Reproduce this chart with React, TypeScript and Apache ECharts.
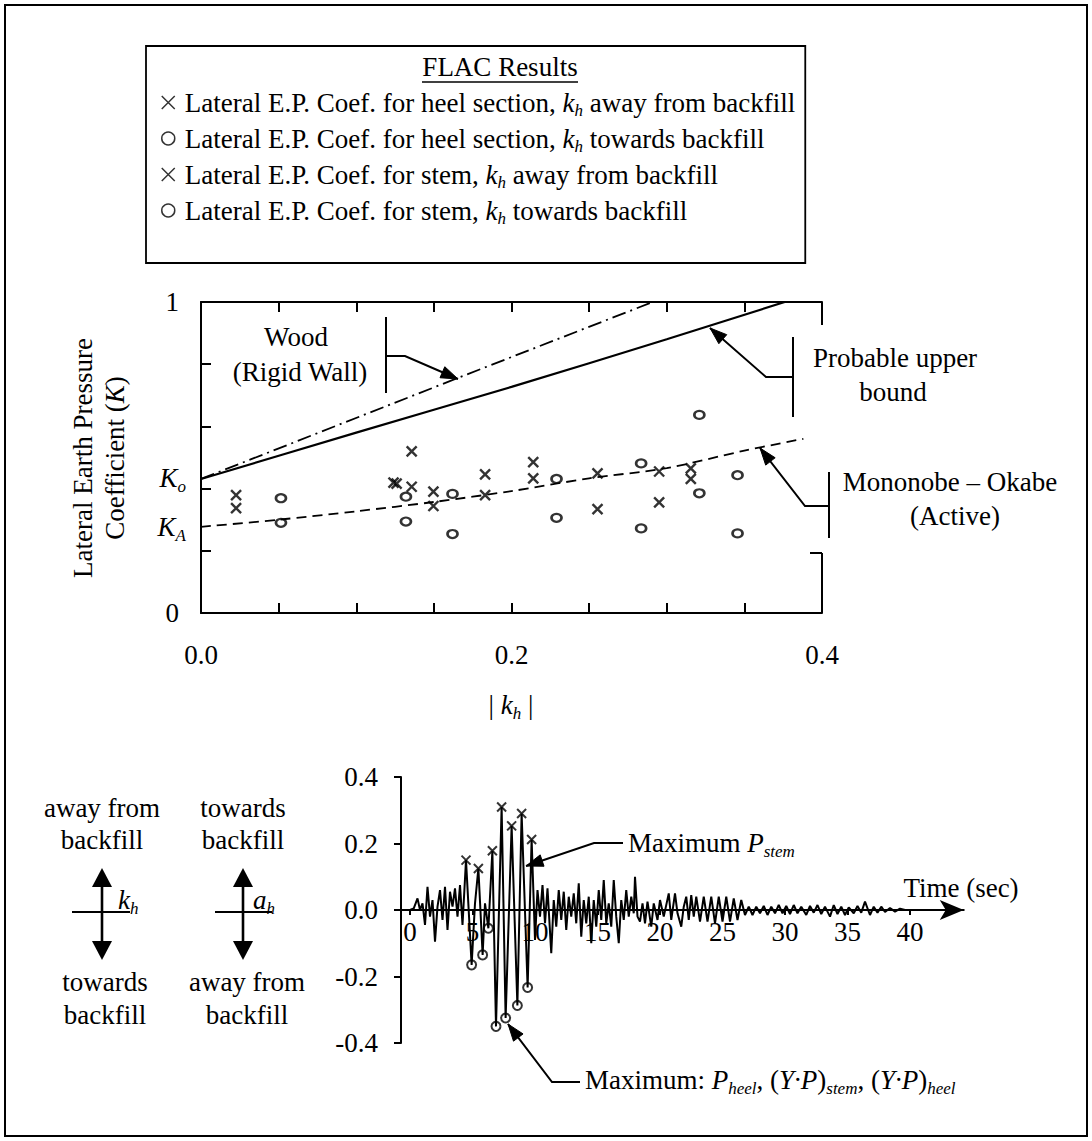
import React, { useEffect, useRef } from "react";
import * as echarts from "echarts";

const FONT = "'Liberation Serif', 'Times New Roman', Times, serif";
const FS = 27;

// ---------- Upper chart: K versus |kh| ----------
const khTickValues = [0, 0.2, 0.4];
const kTickValues = [0, 1];
const woodLine = [[0, 0.431], [0.1656, 0.756], [0.291, 1.0]];
const upperBoundLine = [[0, 0.431], [0.1, 0.58], [0.2, 0.727], [0.3, 0.88], [0.376, 1.0]];
const mononobeOkabeLine = [
  [0, 0.277], [0.05, 0.3], [0.1, 0.327], [0.15, 0.357], [0.2, 0.392],
  [0.25, 0.433], [0.3, 0.466], [0.35, 0.522], [0.388, 0.56],
];
const heelAway = [
  [0.0226, 0.379], [0.124, 0.419], [0.1357, 0.52], [0.1497, 0.39], [0.183, 0.446],
  [0.214, 0.485], [0.2554, 0.449], [0.2951, 0.455], [0.3155, 0.465],
];
const stemAway = [
  [0.0226, 0.337], [0.126, 0.416], [0.1357, 0.406], [0.1497, 0.344], [0.183, 0.379],
  [0.214, 0.433], [0.2554, 0.334], [0.2951, 0.356], [0.3155, 0.431],
];
const heelTowards = [
  [0.0515, 0.369], [0.132, 0.374], [0.162, 0.383], [0.229, 0.431],
  [0.2835, 0.481], [0.321, 0.637], [0.3456, 0.443],
];
const stemTowards = [
  [0.0515, 0.29], [0.132, 0.294], [0.162, 0.254], [0.229, 0.306],
  [0.2835, 0.272], [0.321, 0.385], [0.3456, 0.256],
];

// ---------- Lower chart: kh time history ----------
const timeTicks = [0, 5, 10, 15, 20, 25, 30, 35, 40];
const khHistory = [
  [0, 0], [0.3, 0.005], [0.6, 0.035], [0.8, 0], [1.0, 0.02], [1.2, -0.045], [1.4, 0.07],
  [1.6, -0.02], [1.8, 0.03], [2.0, -0.095], [2.2, 0.01], [2.4, 0.06], [2.6, -0.03],
  [2.8, 0.07], [3.0, -0.06], [3.2, 0.055], [3.4, 0.01], [3.6, 0.065], [3.8, -0.02],
  [4.0, 0.075], [4.2, -0.045], [4.48, 0.15], [4.93, -0.165], [5.2, 0.02], [5.47, 0.125],
  [5.81, -0.135], [6.0, 0.02], [6.27, -0.055], [6.59, 0.178], [6.88, -0.35], [7.33, 0.31],
  [7.65, -0.325], [8.13, 0.253], [8.59, -0.287], [8.93, 0.29], [9.41, -0.233], [9.73, 0.212],
  [10.0, -0.09], [10.2, 0.06], [10.4, -0.02], [10.6, 0.075], [10.8, -0.04], [11.0, 0.065],
  [11.3, -0.13], [11.5, 0.03], [11.7, -0.05], [11.9, 0.06], [12.1, -0.03], [12.3, 0.055],
  [12.5, -0.06], [12.7, 0.04], [12.9, -0.02], [13.1, 0.05], [13.3, -0.04], [13.5, 0.08],
  [13.7, -0.08], [13.9, 0.03], [14.1, -0.04], [14.3, 0.04], [14.5, -0.1], [14.7, 0.03],
  [14.9, -0.05], [15.1, 0.06], [15.3, -0.03], [15.5, 0.09], [15.7, -0.04], [15.9, 0.02],
  [16.1, -0.05], [16.3, 0.09], [16.5, -0.02], [16.7, -0.1], [16.9, 0.03], [17.1, -0.03],
  [17.3, 0.06], [17.5, -0.02], [17.7, 0.04], [17.9, -0.01], [18.0, 0.1], [18.2, -0.02],
  [18.4, -0.035], [18.6, 0.02], [18.8, -0.04], [19.0, 0.025], [19.3, -0.05], [19.5, 0.02],
  [19.8, -0.03], [20.0, 0.03], [20.3, -0.02], [20.7, 0.05], [20.9, -0.03], [21.2, 0.05],
  [21.4, -0.01], [21.7, -0.05], [21.9, 0.01], [22.1, 0.04], [22.3, -0.03], [22.5, 0.045],
  [22.7, -0.02], [22.9, 0.04], [23.2, -0.035], [23.5, 0.04], [23.8, -0.035], [24.1, 0.04],
  [24.4, -0.04], [24.7, 0.04], [25.0, -0.035], [25.3, 0.04], [25.6, -0.035], [25.9, 0.035],
  [26.2, -0.03], [26.5, 0.03], [26.8, -0.015], [27.1, 0.01], [27.4, -0.015], [27.7, 0.01],
  [28.0, -0.01], [28.3, 0.012], [28.6, -0.015], [28.9, 0.01], [29.2, -0.01], [29.5, 0.015],
  [29.8, -0.01], [30.1, 0.012], [30.4, -0.012], [30.7, 0.015], [31.0, -0.01], [31.3, 0.01],
  [31.7, -0.015], [32.0, 0.012], [32.3, -0.008], [32.6, 0.015], [32.9, -0.012], [33.2, 0.01],
  [33.6, -0.02], [33.9, 0.015], [34.2, -0.012], [34.5, 0.01], [34.8, -0.015], [35.1, 0.008],
  [35.5, -0.01], [35.8, 0.012], [36.1, -0.008], [36.4, 0.025], [36.8, -0.015], [37.1, 0.01],
  [37.4, -0.008], [37.7, 0.01], [38.0, -0.006], [38.4, 0.006], [38.8, -0.005], [39.2, 0.004],
  [39.6, 0],
];
const stemPeaks = [[4.48, 0.15], [5.47, 0.125], [6.59, 0.178], [7.33, 0.31], [8.13, 0.253], [8.93, 0.29], [9.73, 0.212]];
const heelPeaks = [[4.93, -0.165], [5.81, -0.135], [6.27, -0.055], [6.88, -0.35], [7.65, -0.325], [8.59, -0.287], [9.41, -0.233]];

const legendLabels: Record<string, string> = {
  heelAway: "{n|Lateral E.P. Coef. for heel section, }{i|k}{s|h}{n| away from backfill}",
  heelTowards: "{n|Lateral E.P. Coef. for heel section, }{i|k}{s|h}{n| towards backfill}",
  stemAway: "{n|Lateral E.P. Coef. for stem, }{i|k}{s|h}{n| away from backfill}",
  stemTowards: "{n|Lateral E.P. Coef. for stem, }{i|k}{s|h}{n| towards backfill}",
};

const CROSS = "path://M0,0L10,10M10,0L0,10";

function richStyles(fs: number) {
  const sub = Math.round(fs * 0.62);
  const base = { fontSize: fs, fontFamily: FONT, fill: "#000", color: "#000", lineHeight: fs + 6 };
  return {
    n: { ...base },
    i: { ...base, fontStyle: "italic" },
    s: {
      fontSize: sub, fontFamily: FONT, fontStyle: "italic", fill: "#000", color: "#000",
      lineHeight: sub + 1, verticalAlign: "bottom",
    },
  };
}

function txt(x: number, y: number, text: string, align = "center", fs = FS, extra: any = {}) {
  return {
    type: "text", x, y, ...extra,
    style: {
      text, fontSize: fs, fontFamily: FONT, fill: "#000",
      align, verticalAlign: "middle", textAlign: align, textVerticalAlign: "middle",
      rich: richStyles(fs),
    },
  };
}
function seg(x1: number, y1: number, x2: number, y2: number, w = 1.8) {
  return { type: "line", shape: { x1, y1, x2, y2 }, style: { stroke: "#000", lineWidth: w } };
}
function pline(points: number[][], w = 1.8) {
  return { type: "polyline", shape: { points }, style: { stroke: "#000", lineWidth: w, fill: "none" } };
}
function head(tx: number, ty: number, fx: number, fy: number, len = 17, half = 6) {
  const dx = tx - fx, dy = ty - fy, d = Math.hypot(dx, dy);
  const ux = dx / d, uy = dy / d;
  const bx = tx - ux * len, by = ty - uy * len;
  return {
    type: "polygon",
    shape: { points: [[tx, ty], [bx - uy * half, by + ux * half], [bx + uy * half, by - ux * half]] },
    style: { fill: "#000", stroke: "#000", lineWidth: 1 },
  };
}
function leader(points: number[][], w = 2) {
  const n = points.length;
  const [tx, ty] = points[n - 1];
  const [fx, fy] = points[n - 2];
  return [pline(points, w), head(tx, ty, fx, fy)];
}
function doubleArrow(x: number, top: number, bottom: number, hx1: number, hx2: number, hy: number) {
  return [
    seg(x, top + 15, x, bottom - 15, 2.6),
    { type: "polygon", shape: { points: [[x, top], [x - 10, top + 19], [x + 10, top + 19]] }, style: { fill: "#000" } },
    { type: "polygon", shape: { points: [[x, bottom], [x - 10, bottom - 19], [x + 10, bottom - 19]] }, style: { fill: "#000" } },
    seg(hx1, hy, hx2, hy, 2),
  ];
}

const axisFont = { fontSize: FS, fontFamily: FONT, color: "#000" };
const blackLine = { color: "#000", width: 2 };

function buildOption(): any {
  const scatterStyle = (w: number) => ({ color: "rgba(0,0,0,0)", borderColor: "#000", borderWidth: w });
  const elements: any[] = [
    { type: "rect", shape: { x: 5, y: 5, width: 1082, height: 1131 }, style: { fill: "none", stroke: "#000", lineWidth: 2 } },
    // legend title
    txt(500, 67, "{n|FLAC Results}"),
    seg(422, 82, 578, 82, 1.4),
    // y-axis title
    txt(83, 458, "{n|Lateral Earth Pressure}", "center", FS, { rotation: Math.PI / 2 }),
    txt(115, 458, "{n|Coefficient (}{i|K}{n|)}", "center", FS, { rotation: Math.PI / 2 }),
    txt(186, 478, "{i|K}{s|o}", "right"),
    txt(186, 527, "{i|K}{s|A}", "right"),
    txt(511, 705, "{n|| }{i|k}{s|h}{n| |}"),
    // partial right frame
    seg(822, 302, 822, 325, 2),
    seg(822, 553, 822, 613, 2),
    seg(810, 553, 822, 553, 2),
    // Wood
    txt(296, 337, "{n|Wood}"),
    txt(300, 372, "{n|(Rigid Wall)}"),
    seg(386, 317, 386, 393, 2),
    ...leader([[386, 356], [405, 356], [458, 379]]),
    // Probable upper bound
    txt(895, 358, "{n|Probable upper}"),
    txt(893, 392, "{n|bound}"),
    seg(793, 337, 793, 417, 2),
    ...leader([[793, 377], [766, 377], [710, 328]]),
    // Mononobe-Okabe
    txt(950, 482, "{n|Mononobe – Okabe}"),
    txt(955, 516, "{n|(Active)}"),
    seg(829, 472, 829, 538, 2),
    ...leader([[829, 506], [805, 506], [760, 448]]),
    // sign convention diagrams
    txt(102, 808, "{n|away from}"),
    txt(102, 840, "{n|backfill}"),
    txt(243, 808, "{n|towards}"),
    txt(243, 840, "{n|backfill}"),
    ...doubleArrow(102, 868, 960, 72, 130, 912),
    ...doubleArrow(243, 868, 960, 215, 272, 912),
    txt(118, 900, "{i|k}{s|h}", "left"),
    txt(253, 900, "{i|a}{s|h}", "left"),
    txt(105, 982, "{n|towards}"),
    txt(105, 1015, "{n|backfill}"),
    txt(247, 982, "{n|away from}"),
    txt(247, 1015, "{n|backfill}"),
    // lower chart annotations
    txt(961, 888, "{n|Time (sec)}"),
    txt(628, 843, "{n|Maximum }{i|P}{s|stem}", "left"),
    ...leader([[623, 843], [594, 843], [526, 866]]),
    txt(585, 1080, "{n|Maximum: }{i|P}{s|heel}{n|, (}{i|Y·P}{n|)}{s|stem}{n|, (}{i|Y·P}{n|)}{s|heel}", "left"),
    ...leader([[580, 1082], [552, 1082], [508, 1024]]),
  ];

  const lineSeries = (data: number[][], style: any, smooth: number | boolean = false) => ({
    type: "line", xAxisIndex: 0, yAxisIndex: 0, data, symbol: "none", showSymbol: false,
    smooth, lineStyle: { color: "#000", ...style }, silent: true, z: 3,
  });

  return {
    animation: false,
    backgroundColor: "#fff",
    grid: [
      { left: 201, top: 302, width: 621, height: 311, containLabel: false },
      { left: 401, top: 777, width: 562.75, height: 266, containLabel: false },
    ],
    xAxis: [
      {
        gridIndex: 0, type: "value", min: 0, max: 0.4, interval: 0.05, position: "bottom",
        axisLine: { show: true, onZero: false, lineStyle: blackLine },
        axisTick: { show: true, inside: true, length: 10, lineStyle: blackLine },
        axisLabel: {
          ...axisFont, margin: 28, showMinLabel: true, showMaxLabel: true, hideOverlap: false,
          formatter: (v: number) => {
            const hit = khTickValues.find((t) => Math.abs(t - v) < 1e-6);
            return hit === undefined ? "" : hit.toFixed(1);
          },
        },
        splitLine: { show: false },
      },
      {
        gridIndex: 0, type: "value", min: 0, max: 0.4, interval: 0.05, position: "top",
        axisLine: { show: true, onZero: false, lineStyle: blackLine },
        axisTick: { show: true, inside: true, length: 10, lineStyle: blackLine },
        axisLabel: { show: false },
        splitLine: { show: false },
      },
      {
        gridIndex: 1, type: "value", min: -0.72, max: 44.3, position: "bottom", offset: -133,
        axisLine: { show: true, onZero: false, symbol: ["none", "arrow"], symbolSize: [15, 24], lineStyle: blackLine },
        axisTick: { show: true, customValues: timeTicks, length: 5, lineStyle: blackLine },
        axisLabel: { ...axisFont, customValues: timeTicks, margin: 8 },
        splitLine: { show: false },
      },
    ],
    yAxis: [
      {
        gridIndex: 0, type: "value", min: 0, max: 1, interval: 0.2,
        axisLine: { show: true, onZero: false, lineStyle: blackLine },
        axisTick: { show: true, inside: true, length: 10, lineStyle: blackLine },
        axisLabel: {
          ...axisFont, margin: 22, showMinLabel: true, showMaxLabel: true,
          formatter: (v: number) => {
            const hit = kTickValues.find((t) => Math.abs(t - v) < 1e-6);
            return hit === undefined ? "" : String(hit);
          },
        },
        splitLine: { show: false },
      },
      {
        gridIndex: 1, type: "value", min: -0.4, max: 0.4, interval: 0.2,
        axisLine: { show: true, onZero: false, lineStyle: blackLine },
        axisTick: { show: true, inside: false, length: 7, lineStyle: blackLine },
        axisLabel: { ...axisFont, margin: 23, formatter: (v: number) => v.toFixed(1) },
        splitLine: { show: false },
      },
    ],
    legend: {
      data: ["heelAway", "heelTowards", "stemAway", "stemTowards"],
      orient: "vertical",
      left: 146,
      top: 46,
      padding: [40, 10, 36, 15],
      itemGap: 3,
      itemWidth: 13,
      itemHeight: 13,
      borderColor: "#000",
      borderWidth: 1.8,
      selectedMode: false,
      itemStyle: { borderWidth: 1.5 },
      formatter: (name: string) => legendLabels[name],
      textStyle: { ...axisFont, lineHeight: 32, padding: [0, 0, 0, 5], rich: richStyles(FS) },
    },
    graphic: { elements },
    series: [
      lineSeries(woodLine, { width: 1.8, type: [14, 5, 2, 5] }),
      lineSeries(upperBoundLine, { width: 2.2 }, 0.2),
      lineSeries(mononobeOkabeLine, { width: 1.8, type: [10, 6] }, 0.3),
      {
        type: "scatter", name: "heelAway", xAxisIndex: 0, yAxisIndex: 0, data: heelAway,
        symbol: CROSS, symbolSize: 10, itemStyle: scatterStyle(2.4), z: 4,
      },
      {
        type: "scatter", name: "heelTowards", xAxisIndex: 0, yAxisIndex: 0, data: heelTowards,
        symbol: "circle", symbolSize: [10, 8], itemStyle: scatterStyle(2.4), z: 4,
      },
      {
        type: "scatter", name: "stemAway", xAxisIndex: 0, yAxisIndex: 0, data: stemAway,
        symbol: CROSS, symbolSize: 10, itemStyle: scatterStyle(2.4), z: 4,
      },
      {
        type: "scatter", name: "stemTowards", xAxisIndex: 0, yAxisIndex: 0, data: stemTowards,
        symbol: "circle", symbolSize: [10, 8], itemStyle: scatterStyle(2.4), z: 4,
      },
      {
        type: "line", name: "history", xAxisIndex: 2, yAxisIndex: 1, data: khHistory,
        symbol: "none", showSymbol: false, lineStyle: { color: "#000", width: 2 }, silent: true, z: 3,
      },
      {
        type: "scatter", name: "stemPeak", xAxisIndex: 2, yAxisIndex: 1, data: stemPeaks,
        symbol: CROSS, symbolSize: 9, itemStyle: scatterStyle(2), z: 4,
      },
      {
        type: "scatter", name: "heelPeak", xAxisIndex: 2, yAxisIndex: 1, data: heelPeaks,
        symbol: "circle", symbolSize: 9, itemStyle: scatterStyle(2), z: 4,
      },
    ],
  };
}

export default function App() {
  const ref = useRef<HTMLDivElement>(null);
  useEffect(() => {
    if (!ref.current) return;
    const chart = echarts.init(ref.current, null, { renderer: "svg" });
    chart.setOption(buildOption());
    return () => chart.dispose();
  }, []);
  return (
    <div
      ref={ref}
      style={{ position: "absolute", left: 0, top: 0, width: 1092, height: 1141, background: "#fff" }}
    />
  );
}
